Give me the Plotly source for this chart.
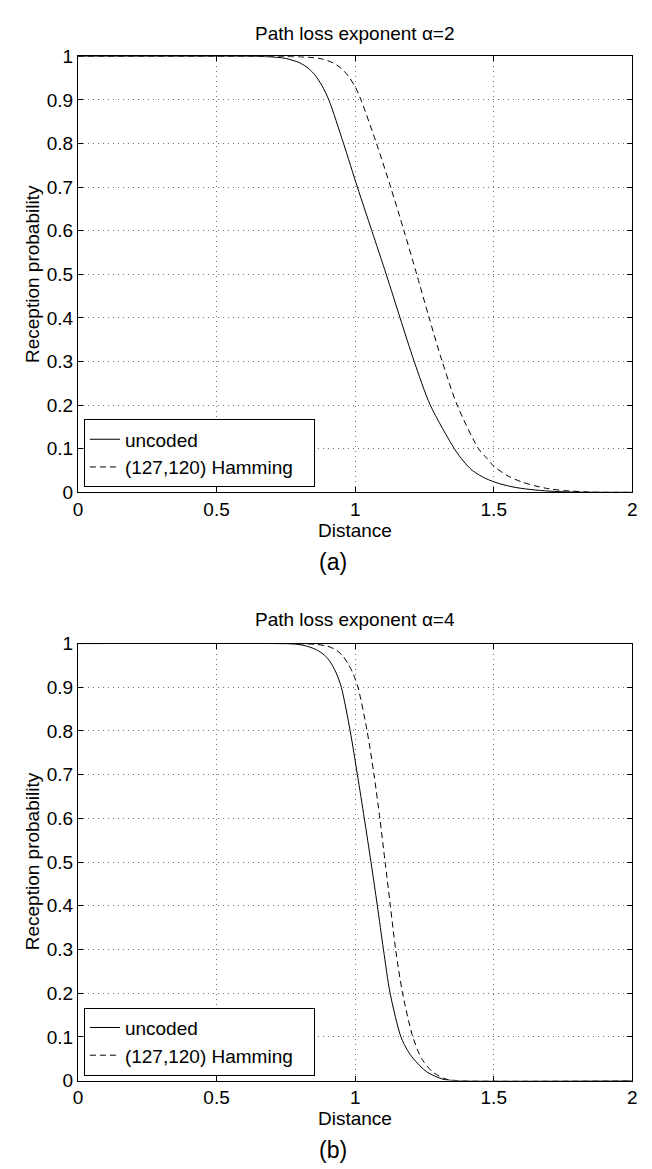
import plotly.graph_objects as go

# ---- data ----
x_ticks = [0, 0.5, 1, 1.5, 2]
x_tick_labels = ["0", "0.5", "1", "1.5", "2"]
y_ticks = [0, 0.1, 0.2, 0.3, 0.4, 0.5, 0.6, 0.7, 0.8, 0.9, 1.0]
y_tick_labels = ["0", "0.1", "0.2", "0.3", "0.4", "0.5", "0.6", "0.7", "0.8", "0.9", "1"]

# (a) path loss exponent alpha = 2
a_uncoded_d = [0, 0.6, 0.65, 0.7, 0.75, 0.8, 0.83, 0.855, 0.88, 0.905, 0.958, 1.008, 1.060,
               1.112, 1.162, 1.213, 1.271, 1.358, 1.39, 1.423, 1.47, 1.52, 1.58, 1.648, 1.72,
               1.8, 1.9, 2.0]
a_uncoded_p = [1, 1, 0.9997, 0.9985, 0.995, 0.985, 0.973, 0.957, 0.933, 0.9, 0.8, 0.7, 0.6,
               0.5, 0.4, 0.3, 0.2, 0.1, 0.072, 0.05, 0.032, 0.02, 0.011, 0.0055, 0.002,
               0.0005, 0, 0]
a_hamming_d = [0, 0.7, 0.75, 0.83, 0.88, 0.92, 0.95, 0.975, 1.0, 1.021, 1.077, 1.128, 1.176,
               1.222, 1.267, 1.314, 1.368, 1.445, 1.475, 1.5, 1.553, 1.6, 1.648, 1.7, 1.755,
               1.85, 2.0]
a_hamming_p = [1, 1, 0.9995, 0.998, 0.994, 0.985, 0.972, 0.955, 0.93, 0.9, 0.8, 0.7, 0.6,
               0.5, 0.4, 0.3, 0.2, 0.1, 0.078, 0.06, 0.037, 0.024, 0.015, 0.008, 0.004,
               0.0005, 0]

# (b) path loss exponent alpha = 4
b_uncoded_d = [0, 0.72, 0.78, 0.82, 0.86, 0.89, 0.91, 0.93, 0.95, 0.982, 1.008, 1.033, 1.057,
               1.080, 1.102, 1.126, 1.165, 1.19, 1.21, 1.258, 1.317, 1.36, 2.0]
b_uncoded_p = [1, 1, 0.999, 0.995, 0.986, 0.973, 0.958, 0.935, 0.9, 0.8, 0.7, 0.6, 0.5,
               0.4, 0.3, 0.2, 0.1, 0.068, 0.05, 0.02, 0.003, 0, 0]
b_hamming_d = [0, 0.75, 0.8, 0.86, 0.9, 0.932, 0.955, 0.973, 0.99, 1.01, 1.043, 1.068, 1.089,
               1.108, 1.127, 1.146, 1.171, 1.208, 1.240, 1.279, 1.329, 1.37, 2.0]
b_hamming_p = [1, 1, 0.9997, 0.998, 0.994, 0.985, 0.972, 0.955, 0.935, 0.9, 0.8, 0.7, 0.6,
               0.5, 0.4, 0.3, 0.2, 0.1, 0.05, 0.02, 0.003, 0, 0]

series_names = ["uncoded", "(127,120) Hamming"]
titles = ["Path loss exponent α=2", "Path loss exponent α=4"]
panel_labels = ["(a)", "(b)"]

# ---- layout geometry ----
W, H = 652, 1169
FONT = "Liberation Sans, Arial, Helvetica, sans-serif"
FS = 19
PAD = "\u00a0\u00a0\u00a0"

def py(y):
    return 1 - y / H

x_dom = [66 / W, 629 / W]
top_dom = [py(483), py(39)]
bot_dom = [py(1082), py(637)]

fig = go.Figure()

line_solid = dict(color="black", width=1, shape="spline", smoothing=0.8)
line_dash = dict(color="black", width=1, dash="6px,4px", shape="spline", smoothing=0.8)

fig.add_trace(go.Scatter(x=a_uncoded_d, y=a_uncoded_p, mode="lines", name=series_names[0],
                         line=line_solid, xaxis="x", yaxis="y", legend="legend"))
fig.add_trace(go.Scatter(x=a_hamming_d, y=a_hamming_p, mode="lines", name=series_names[1] + PAD,
                         line=line_dash, xaxis="x", yaxis="y", legend="legend"))
fig.add_trace(go.Scatter(x=b_uncoded_d, y=b_uncoded_p, mode="lines", name=series_names[0],
                         line=line_solid, xaxis="x2", yaxis="y2", legend="legend2"))
fig.add_trace(go.Scatter(x=b_hamming_d, y=b_hamming_p, mode="lines", name=series_names[1] + PAD,
                         line=line_dash, xaxis="x2", yaxis="y2", legend="legend2"))

axis_common = dict(
    showline=True, linecolor="black", linewidth=1, mirror="ticks",
    ticks="inside", ticklen=5, tickcolor="black", tickwidth=1,
    showgrid=True, gridcolor="#707070", gridwidth=1, griddash="1px,4px",
    zeroline=False, tickfont=dict(family=FONT, size=FS, color="black"),
)

xa = dict(axis_common, range=[0, 2], tickvals=x_ticks, ticktext=x_tick_labels, domain=x_dom)
ya = dict(axis_common, range=[0, 1], tickvals=y_ticks, ticktext=y_tick_labels)

legend_common = dict(
    bgcolor="white", bordercolor="black", borderwidth=1,
    font=dict(family=FONT, size=FS, color="black"),
    xanchor="left", yanchor="bottom", tracegroupgap=0,
    itemwidth=30,
)

fig.update_layout(
    width=W, height=H,
    margin=dict(l=0, r=0, t=0, b=0),
    paper_bgcolor="white", plot_bgcolor="white",
    font=dict(family=FONT, size=FS, color="black"),
    xaxis=dict(xa, anchor="y"),
    yaxis=dict(ya, domain=top_dom, anchor="x"),
    xaxis2=dict(xa, anchor="y2"),
    yaxis2=dict(ya, domain=bot_dom, anchor="x2"),
    legend=dict(legend_common, x=72 / W, y=py(478)),
    legend2=dict(legend_common, x=72 / W, y=py(1077)),
    showlegend=True,
)

ann = []
for title, lab, ttl_y, dist_y, lab_y, ylab_y in [
    (titles[0], panel_labels[0], 16, 522, 554, 261),
    (titles[1], panel_labels[1], 613, 1121, 1153, 859),
]:
    ann.append(dict(text=title, x=347 / W, y=py(ttl_y), xref="paper", yref="paper",
                    showarrow=False, xanchor="center", yanchor="middle",
                    font=dict(family=FONT, size=FS, color="black")))
    ann.append(dict(text="Distance", x=347 / W, y=py(dist_y), xref="paper", yref="paper",
                    showarrow=False, xanchor="center", yanchor="middle",
                    font=dict(family=FONT, size=FS, color="black")))
    ann.append(dict(text=lab, x=325 / W, y=py(lab_y), xref="paper", yref="paper",
                    showarrow=False, xanchor="center", yanchor="middle",
                    font=dict(family=FONT, size=23, color="black")))
    ann.append(dict(text="Reception probability", x=20 / W, y=py(ylab_y), xref="paper",
                    yref="paper", showarrow=False, xanchor="center", yanchor="middle",
                    textangle=-90, font=dict(family=FONT, size=FS, color="black")))
fig.update_layout(annotations=ann)

fig.write_html("out.html")
